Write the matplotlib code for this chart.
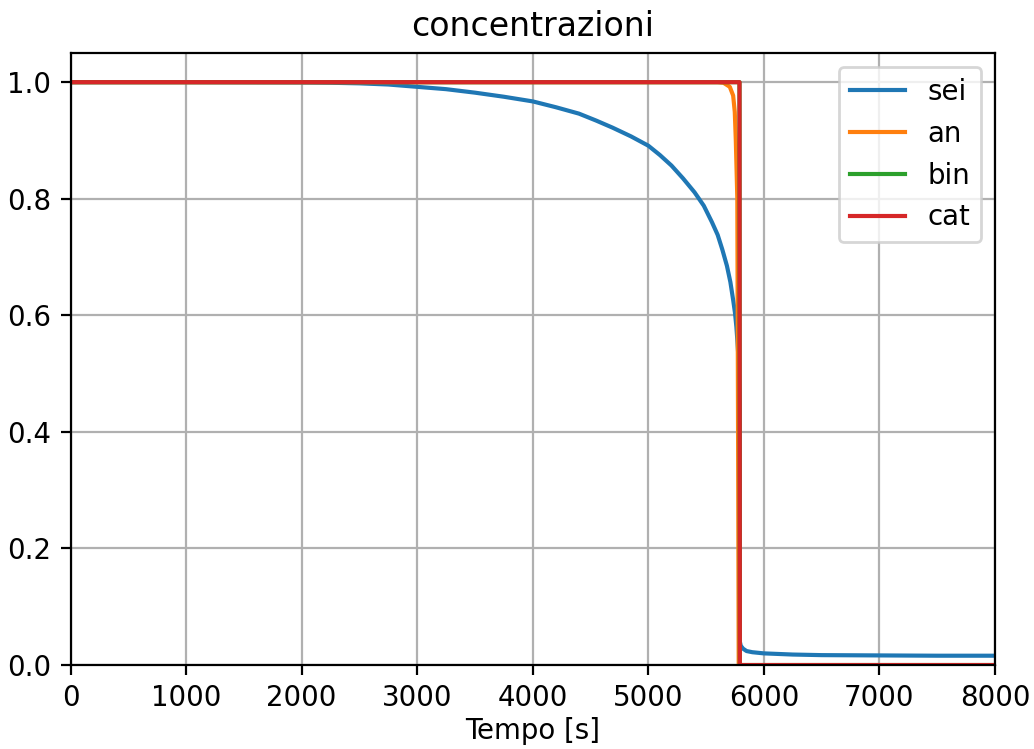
"""
Concentration profiles of the cell species over time
"""
import matplotlib
matplotlib.use('Agg')
import matplotlib.pyplot as plt

# sei concentration (slow decay, sharp drop near 5790 s, small residual)
t_sei = [0, 1000, 2000, 2250, 2500, 2750, 3000, 3250, 3500, 3750, 4000, 4200,
         4400, 4550, 4690, 4850, 5000, 5100, 5200, 5300, 5400, 5480, 5550,
         5600, 5640, 5680, 5710, 5735, 5750, 5762, 5770, 5782, 5790, 5792,
         5800, 5820, 5850, 5900, 6000, 6250, 6500, 7000, 7500, 8000]
sei = [1.0, 1.0, 0.9995, 0.999, 0.998, 0.996, 0.992, 0.988, 0.982, 0.975,
       0.967, 0.957, 0.946, 0.934, 0.922, 0.907, 0.891, 0.875, 0.857, 0.835,
       0.811, 0.788, 0.760, 0.738, 0.713, 0.685, 0.657, 0.625, 0.604, 0.58,
       0.558, 0.52, 0.45, 0.04, 0.033, 0.028, 0.024, 0.022, 0.020, 0.018,
       0.017, 0.0165, 0.016, 0.016]

# an concentration
t_an = [0, 5600, 5650, 5705, 5734, 5748, 5757, 5770, 5778, 5782, 8000]
an = [1.0, 1.0, 0.999, 0.992, 0.977, 0.949, 0.90, 0.80, 0.30, 0.0, 0.0]

# bin and cat concentrations
t_bin = [0, 5789, 5792, 8000]
bin_ = [1.0, 1.0, 0.0, 0.0]
t_cat = [0, 5789, 5792, 8000]
cat = [1.0, 1.0, 0.0, 0.0]

labels = ['sei', 'an', 'bin', 'cat']

dpi = 199
fig = plt.figure(figsize=(1034 / dpi, 749 / dpi), dpi=dpi)
ax = fig.add_axes([0.0682, 0.1121, 0.8941, 0.8171])

ax.plot(t_sei, sei, label=labels[0])
ax.plot(t_an, an, label=labels[1])
ax.plot(t_bin, bin_, label=labels[2])
ax.plot(t_cat, cat, label=labels[3])

ax.set_xlim(0, 8000)
ax.set_ylim(0, 1.05)
ax.grid(True)
ax.set_title('concentrazioni', fontsize=12)
ax.set_xlabel('Tempo [s]', labelpad=1.5)
ax.legend(loc='upper right')

plt.savefig('out.png', dpi=dpi)
